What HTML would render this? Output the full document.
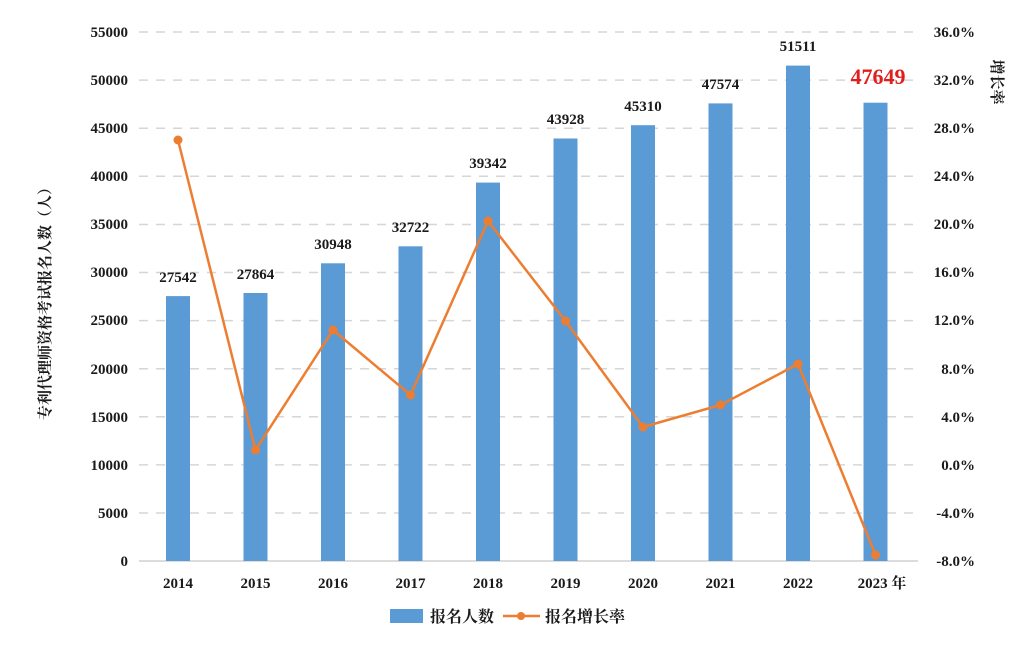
<!DOCTYPE html>
<html><head><meta charset="utf-8"><style>
html,body{margin:0;padding:0;background:#fff;}
svg text{font-family:"Liberation Serif","Noto Serif CJK SC",serif;font-weight:bold;fill:#1a1a1a;}
</style></head><body>
<svg width="1028" height="653" viewBox="0 0 1028 653" xmlns="http://www.w3.org/2000/svg">
<g stroke="#d6d6d6" stroke-width="1.5" stroke-dasharray="9,8">
<line x1="139" x2="918" y1="32" y2="32"/><line x1="139" x2="918" y1="80.1" y2="80.1"/>
<line x1="139" x2="918" y1="128.2" y2="128.2"/><line x1="139" x2="918" y1="176.3" y2="176.3"/>
<line x1="139" x2="918" y1="224.5" y2="224.5"/><line x1="139" x2="918" y1="272.5" y2="272.5"/>
<line x1="139" x2="918" y1="320.6" y2="320.6"/><line x1="139" x2="918" y1="368.7" y2="368.7"/>
<line x1="139" x2="918" y1="416.8" y2="416.8"/><line x1="139" x2="918" y1="464.9" y2="464.9"/>
<line x1="139" x2="918" y1="513" y2="513"/>
</g>
<line x1="139" x2="918" y1="561" y2="561" stroke="#d0d0d0" stroke-width="1.5"/>
<g font-size="15" text-anchor="end">
<text x="128" y="37">55000</text><text x="128" y="85">50000</text><text x="128" y="133">45000</text>
<text x="128" y="181">40000</text><text x="128" y="229">35000</text><text x="128" y="277">30000</text>
<text x="128" y="325">25000</text><text x="128" y="374">20000</text><text x="128" y="422">15000</text>
<text x="128" y="470">10000</text><text x="128" y="518">5000</text><text x="128" y="566">0</text>
</g>
<g font-size="15" text-anchor="end">
<text x="975" y="37">36.0%</text><text x="975" y="85">32.0%</text><text x="975" y="133">28.0%</text>
<text x="975" y="181">24.0%</text><text x="975" y="229">20.0%</text><text x="975" y="277">16.0%</text>
<text x="975" y="325">12.0%</text><text x="975" y="374">8.0%</text><text x="975" y="422">4.0%</text>
<text x="975" y="470">0.0%</text><text x="975" y="518">-4.0%</text><text x="975" y="566">-8.0%</text>
</g>
<text font-size="15" transform="translate(50,300) rotate(-90)" text-anchor="middle">专利代理师资格考试报名人数（人）</text>
<text font-size="15" transform="translate(992,82) rotate(90)" text-anchor="middle">增长率</text>
<g fill="#5b9bd5">
<rect x="166" y="296.1" width="24" height="264.9"/>
<rect x="243.5" y="293" width="24" height="268"/>
<rect x="321" y="263.3" width="24" height="297.7"/>
<rect x="398.5" y="246.3" width="24" height="314.7"/>
<rect x="476" y="182.6" width="24" height="378.4"/>
<rect x="553.5" y="138.5" width="24" height="422.5"/>
<rect x="631" y="125.2" width="24" height="435.8"/>
<rect x="708.5" y="103.4" width="24" height="457.6"/>
<rect x="786" y="65.6" width="24" height="495.4"/>
<rect x="863.5" y="102.7" width="24" height="458.3"/>
</g>
<g font-size="15" text-anchor="middle">
<text x="178" y="282">27542</text><text x="255.5" y="279">27864</text><text x="333" y="249">30948</text>
<text x="410.5" y="232">32722</text><text x="488" y="168">39342</text><text x="565.5" y="124">43928</text>
<text x="643" y="111">45310</text><text x="720.5" y="89">47574</text><text x="798" y="51">51511</text>
</g>
<text x="878" y="84" font-size="22" text-anchor="middle" style="fill:#e0201c">47649</text>
<polyline fill="none" stroke="#ed7d31" stroke-width="2.5" points="178,140 255.5,450 333,330 410.5,395 488,221 565.5,321 643,427 720.5,405 798,364 875.5,555"/>
<g fill="#ed7d31">
<circle cx="178" cy="140" r="4.5"/><circle cx="255.5" cy="450" r="4.5"/><circle cx="333" cy="330" r="4.5"/>
<circle cx="410.5" cy="395" r="4.5"/><circle cx="488" cy="221" r="4.5"/><circle cx="565.5" cy="321" r="4.5"/>
<circle cx="643" cy="427" r="4.5"/><circle cx="720.5" cy="405" r="4.5"/><circle cx="798" cy="364" r="4.5"/>
<circle cx="875.5" cy="555" r="4.5"/>
</g>
<g font-size="15" text-anchor="middle">
<text x="178" y="588">2014</text><text x="255.5" y="588">2015</text><text x="333" y="588">2016</text>
<text x="410.5" y="588">2017</text><text x="488" y="588">2018</text><text x="565.5" y="588">2019</text>
<text x="643" y="588">2020</text><text x="720.5" y="588">2021</text><text x="798" y="588">2022</text>
<text x="882" y="588">2023 年</text>
</g>
<rect x="390" y="609" width="33" height="14" fill="#5b9bd5"/>
<text x="430" y="622" font-size="16">报名人数</text>
<line x1="503" x2="540" y1="616" y2="616" stroke="#ed7d31" stroke-width="2.5"/>
<circle cx="521" cy="616" r="4" fill="#ed7d31"/>
<text x="545" y="622" font-size="16">报名增长率</text>
</svg>
</body></html>
